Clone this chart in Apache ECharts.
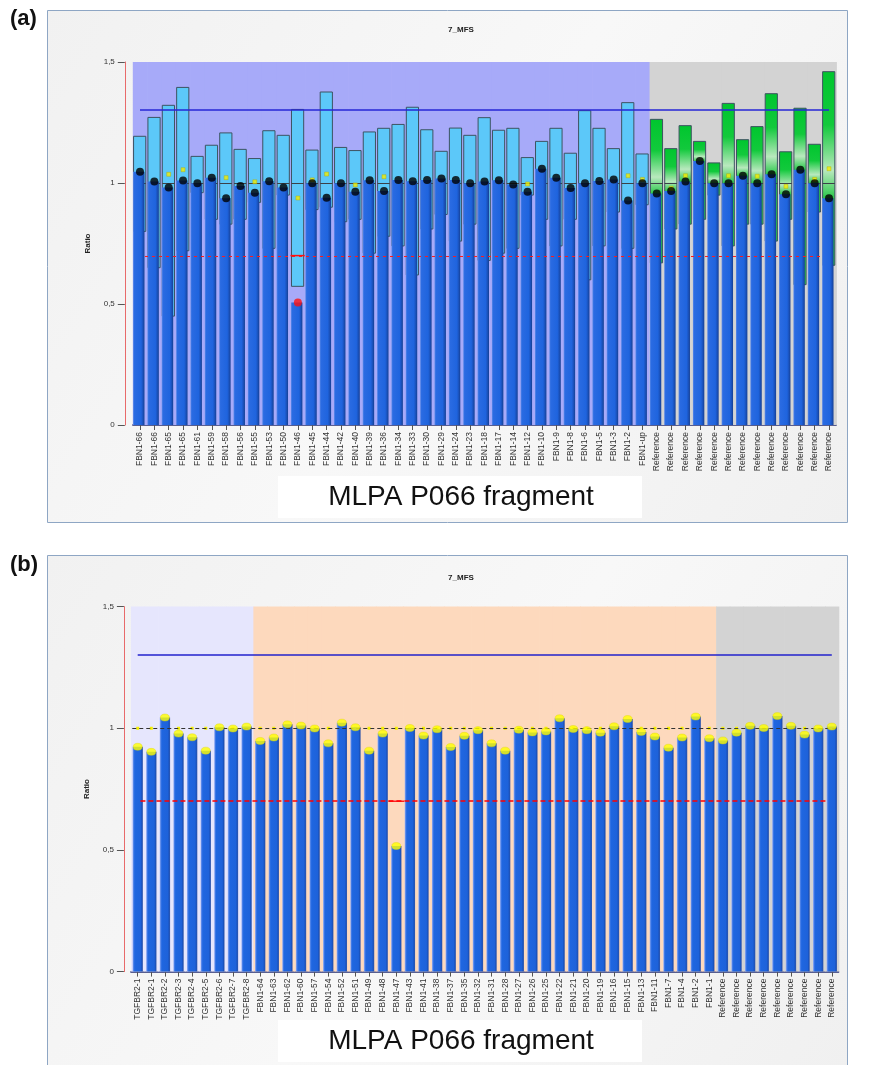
<!DOCTYPE html>
<html><head><meta charset="utf-8">
<script src="https://cdn.jsdelivr.net/npm/echarts/dist/echarts.min.js"></script>
<style>html,body{margin:0;padding:0;background:#fff}#c{width:878px;height:1065px}</style>
</head><body><div id="c"></div>
<script>
// ---------- Panel (a) ----------
const catsA = ['FBN1-66','FBN1-66','FBN1-65','FBN1-65','FBN1-61','FBN1-59','FBN1-58','FBN1-56','FBN1-55','FBN1-53',
  'FBN1-50','FBN1-46','FBN1-45','FBN1-44','FBN1-42','FBN1-40','FBN1-39','FBN1-36','FBN1-34','FBN1-33',
  'FBN1-30','FBN1-29','FBN1-24','FBN1-23','FBN1-18','FBN1-17','FBN1-14','FBN1-12','FBN1-10','FBN1-9',
  'FBN1-8','FBN1-6','FBN1-5','FBN1-3','FBN1-2','FBN1-up',
  'Reference','Reference','Reference','Reference','Reference','Reference','Reference','Reference','Reference',
  'Reference','Reference','Reference','Reference'];
const highA = [1.193,1.271,1.321,1.395,1.110,1.156,1.207,1.139,1.101,1.216,1.197,1.304,1.136,1.376,1.147,1.134,1.211,1.226,1.242,1.313,1.220,1.131,1.227,1.197,
  1.270,1.218,1.226,1.105,1.172,1.226,1.123,1.299,1.226,1.142,1.332,1.120,
  1.263,1.142,1.237,1.172,1.083,1.329,1.179,1.233,1.369,1.129,1.309,1.160,1.460];
const lowA = [0.80,0.65,0.45,0.72,0.96,0.85,0.83,0.85,0.92,0.73,0.95,0.573,0.89,0.90,0.84,0.85,0.71,0.78,0.74,0.62,0.81,0.87,0.76,0.83,
  0.68,0.71,0.73,0.95,0.85,0.74,0.85,0.60,0.74,0.88,0.73,0.91,
  0.67,0.81,0.83,0.85,0.95,0.74,0.83,0.83,0.76,0.85,0.58,0.88,0.66];
const ratioA = [1.047,1.006,0.981,1.010,0.999,1.022,0.937,0.988,0.960,1.007,0.981,0.506,0.999,0.939,0.999,0.964,1.011,0.967,1.012,1.007,1.012,1.019,1.012,0.999,
  1.006,1.011,0.994,0.964,1.059,1.022,0.979,0.999,1.008,1.014,0.928,0.999,
  0.957,0.967,1.006,1.091,0.999,0.999,1.030,0.999,1.036,0.953,1.055,0.999,0.937];
const markA = [null,null,1.036,1.055,null,null,1.022,null,1.005,null,null,0.938,1.013,1.037,null,0.992,null,1.026,null,null,null,null,null,null,
  null,null,null,0.996,null,null,null,null,null,null,1.030,1.015,
  null,0.978,1.030,null,null,1.030,null,1.028,null,0.986,null,1.015,1.059];

// ---------- Panel (b) ----------
const catsB = ['TGFBR2-1','TGFBR2-1','TGFBR2-2','TGFBR2-3','TGFBR2-4','TGFBR2-5','TGFBR2-6','TGFBR2-7','TGFBR2-8',
  'FBN1-64','FBN1-63','FBN1-62','FBN1-60','FBN1-57','FBN1-54','FBN1-52','FBN1-51','FBN1-49','FBN1-48','FBN1-47',
  'FBN1-43','FBN1-41','FBN1-38','FBN1-37','FBN1-35','FBN1-32','FBN1-31','FBN1-28','FBN1-27','FBN1-26','FBN1-25',
  'FBN1-22','FBN1-21','FBN1-20','FBN1-19','FBN1-16','FBN1-15','FBN1-13','FBN1-11','FBN1-7','FBN1-4','FBN1-2','FBN1-1',
  'Reference','Reference','Reference','Reference','Reference','Reference','Reference','Reference','Reference'];
const ratioB = [0.924,0.903,1.044,0.978,0.963,0.908,1.004,0.999,1.007,
  0.948,0.962,1.016,1.011,0.999,0.938,1.023,1.004,0.908,0.978,0.516,1.001,0.970,0.996,0.923,0.969,0.992,0.938,
  0.908,0.994,0.983,0.987,1.041,0.997,0.992,0.982,1.008,1.038,0.985,0.966,0.920,0.962,1.048,0.959,
  0.950,0.982,1.010,1.001,1.050,1.010,0.974,0.999,1.007];

const yTicks = ['0','0,5','1','1,5'];
const upperLimit = 1.3, lowerLimit = 0.7, refLevel = 1.0;
const FONT = '"Liberation Sans", Arial, sans-serif';

const barGradA = {type:'linear',x:0,y:0,x2:1,y2:0,colorStops:[
  {offset:0,color:'#5d8ae8'},{offset:0.12,color:'#2a6be2'},{offset:0.7,color:'#1f64de'},{offset:0.86,color:'#1a52bc'},{offset:1,color:'#163f92'}]};
const barGradB = {type:'linear',x:0,y:0,x2:1,y2:0,colorStops:[
  {offset:0,color:'#9db2f4'},{offset:0.12,color:'#3d78e6'},{offset:0.22,color:'#1f66e0'},{offset:0.78,color:'#1e62da'},{offset:0.9,color:'#1a52bc'},{offset:1,color:'#3a5aa8'}]};

function bgRender(colorFn){
  return function(params, api){
    const i = api.value(0);
    const c = api.coord([i, 0]);
    const bw = api.size([1, 0])[0];
    const cs = params.coordSys;
    return {type:'rect', silent:true, shape:{x:c[0]-bw/2, y:cs.y, width:bw+0.7, height:cs.height}, style:{fill:colorFn(i)}};
  };
}

function mainARender(params, api){
  const i = api.value(0), lo = api.value(1), hi = api.value(2), r = api.value(3);
  const bw = api.size([1, 0])[0];
  const w = bw * 0.85;
  const pHi = api.coord([i, hi]), pLo = api.coord([i, lo]), p0 = api.coord([i, 0]);
  const pR = api.coord([i, r]), p1 = api.coord([i, refLevel]), pL = api.coord([i, lowerLimit]);
  const x = pHi[0] - w/2 - 0.3;
  const isRef = catsA[i] === 'Reference';
  const fill = isRef ? {type:'linear', global:true, x:0, y:pHi[1], x2:0, y2:Math.max(pR[1], pHi[1]+1), colorStops:[
      {offset:0,color:'#00c62e'},{offset:0.42,color:'#12c93c'},{offset:0.78,color:'#b9e9be'},{offset:1,color:'#2ac84a'}]} : '#5cc8f9';
  const ch = [];
  ch.push({type:'rect', shape:{x:x, y:pHi[1], width:w, height:pLo[1]-pHi[1]}, style:{fill:fill, stroke:'#3d5361', lineWidth:1}});
  if (lo < refLevel && hi > refLevel) {
    ch.push({type:'line', shape:{x1:x, y1:Math.round(p1[1])+0.5, x2:x+w, y2:Math.round(p1[1])+0.5}, style:{stroke:'#3b4148', lineWidth:1}});
  }
  ch.push({type:'rect', shape:{x:x-0.5, y:pR[1], width:w-0.8, height:p0[1]-pR[1]}, style:{fill:barGradA}});
  if (r < lowerLimit) {
    ch.push({type:'line', shape:{x1:x-1, y1:pL[1], x2:x+w+1, y2:pL[1]}, style:{stroke:'#ff1010', lineWidth:1.5}});
  }
  return {type:'group', children:ch};
}

function barBRender(params, api){
  const i = api.value(0), v = api.value(1);
  const bw = api.size([1, 0])[0];
  const w = bw * 0.76;
  const pV = api.coord([i, v]), p0 = api.coord([i, 0]), p1 = api.coord([i, refLevel]), pL = api.coord([i, lowerLimit]);
  const ch = [];
  ch.push({type:'rect', shape:{x:pV[0]-1.5, y:p1[1]-1.5, width:3, height:3}, style:{fill:'#f4f000'}});
  ch.push({type:'rect', shape:{x:pV[0]-w/2, y:pV[1], width:w, height:p0[1]-pV[1]}, style:{fill:barGradB}});
  if (v < lowerLimit) {
    ch.push({type:'line', shape:{x1:pV[0]-bw/2-1, y1:pL[1], x2:pV[0]+bw/2+1, y2:pL[1]}, style:{stroke:'#ff2020', lineWidth:1.5}});
  }
  return {type:'group', children:ch};
}

// one horizontal reference line per series
function hlineSeries(gi, n, level, s){
  return {type:'custom', xAxisIndex:gi, yAxisIndex:gi, z:3, silent:true, clip:false,
    data:[[level]], encode:{y:0},
    renderItem:function(params, api){
      const y = api.value(0);
      const pA = api.coord([0, y]), pB = api.coord([n-1, y]);
      const bw = api.size([1, 0])[0];
      const yy = Math.round(pA[1]) + (s.width % 2 === 1 ? 0.5 : 0);
      return {type:'line', silent:true,
        shape:{x1:pA[0] + s.from*bw, y1:yy, x2:pB[0] + s.to*bw, y2:yy},
        style:{stroke:s.color, lineWidth:s.width, lineDash:s.dash || null}};
    }};
}

function yAxisCfg(gridIndex, offset){
  return {
    type:'value', gridIndex, min:0, max:1.5, interval:0.5, offset,
    axisLine:{show:true, lineStyle:{color:'#e86a6a', width:1}},
    axisTick:{show:true, length:7, lineStyle:{color:'#555'}},
    axisLabel:{formatter:(v)=>yTicks[Math.round(v/0.5)], fontSize:8, color:'#333', margin:10, fontFamily:FONT},
    splitLine:{show:false},
    name:'Ratio', nameLocation:'middle', nameGap:33,
    nameTextStyle:{fontSize:8, fontWeight:'bold', color:'#222', fontFamily:FONT}
  };
}
function xAxisCfg(gridIndex, cats){
  return {
    type:'category', gridIndex, data:cats,
    axisLine:{show:true, lineStyle:{color:'#232c70', width:1.5}},
    axisTick:{show:true, alignWithLabel:true, length:5, lineStyle:{color:'#555'}},
    axisLabel:{rotate:90, interval:0, fontSize:8.5, color:'#333', margin:7, fontFamily:FONT},
    splitLine:{show:false}
  };
}

const panelFill = {type:'linear',x:0,y:0,x2:1,y2:1,colorStops:[{offset:0,color:'#f1f1f1'},{offset:0.5,color:'#f8f8f8'},{offset:1,color:'#f0f0f0'}]};

const option = {
  animation:false,
  backgroundColor:'#ffffff',
  graphic:[
    {type:'rect', z:-10, silent:true, shape:{x:47.5, y:10.5, width:800, height:512}, style:{fill:panelFill, stroke:'#8ea6c4', lineWidth:1}},
    {type:'rect', z:-10, silent:true, shape:{x:47.5, y:555.5, width:800, height:520}, style:{fill:panelFill, stroke:'#8ea6c4', lineWidth:1}},
    {type:'text', z:10, style:{text:'(a)', x:10, y:19, font:'bold 22px '+FONT, fill:'#111', textVerticalAlign:'middle'}},
    {type:'text', z:10, style:{text:'(b)', x:10, y:565, font:'bold 22px '+FONT, fill:'#111', textVerticalAlign:'middle'}},
    {type:'text', z:10, style:{text:'7_MFS', x:461, y:30, font:'bold 8px '+FONT, fill:'#222', textAlign:'center', textVerticalAlign:'middle'}},
    {type:'text', z:10, style:{text:'7_MFS', x:461, y:578, font:'bold 8px '+FONT, fill:'#222', textAlign:'center', textVerticalAlign:'middle'}},
    {type:'rect', z:5, silent:true, shape:{x:278, y:476, width:364, height:42}, style:{fill:'#ffffff'}},
    {type:'rect', z:5, silent:true, shape:{x:278, y:1020, width:364, height:42}, style:{fill:'#ffffff'}},
    {type:'text', z:10, style:{text:'MLPA P066 fragment', x:461, y:497, font:'28px '+FONT, fill:'#111', textAlign:'center', textVerticalAlign:'middle'}},
    {type:'text', z:10, style:{text:'MLPA P066 fragment', x:461, y:1041, font:'28px '+FONT, fill:'#111', textAlign:'center', textVerticalAlign:'middle'}}
  ],
  grid:[
    {left:132.8, top:62, width:703.4, height:363},
    {left:130.9, top:606.6, width:707.7, height:365}
  ],
  xAxis:[xAxisCfg(0, catsA), xAxisCfg(1, catsB)],
  yAxis:[yAxisCfg(0, 8), yAxisCfg(1, 7)],
  series:[
    {type:'custom', xAxisIndex:0, yAxisIndex:0, z:1, silent:true, clip:false,
     renderItem:bgRender(i => catsA[i]==='Reference' ? '#d3d3d3' : '#a7aaf9'),
     data:catsA.map((c,i)=>[i,0]), encode:{x:0,y:1}},
    {type:'custom', xAxisIndex:0, yAxisIndex:0, z:2, silent:true, clip:false,
     renderItem:mainARender,
     data:catsA.map((c,i)=>[i, lowA[i], highA[i], ratioA[i]]), encode:{x:0, y:[1,2,3]}},
    hlineSeries(0, catsA.length, upperLimit, {color:'#2626d6', width:1.5, from:0, to:0}),
    hlineSeries(0, catsA.length, lowerLimit, {color:'#ff1a1a', width:1, dash:[3,4], from:0.35, to:-0.35}),
    {type:'scatter', xAxisIndex:0, yAxisIndex:0, z:4, silent:true,
     symbol:'rect', symbolSize:4, itemStyle:{color:'#f2ee00', borderColor:'#b0a800', borderWidth:0.5},
     data:markA.map((v,i)=> v==null ? null : [i, v]).filter(d => d)},
    {type:'scatter', xAxisIndex:0, yAxisIndex:0, z:5, silent:true,
     symbol:'circle', symbolSize:8,
     itemStyle:{color:(p)=> ratioA[p.dataIndex] < lowerLimit ? '#ff1010' : '#000000'},
     data:ratioA.map((v,i)=>[i, v])},

    {type:'custom', xAxisIndex:1, yAxisIndex:1, z:1, silent:true, clip:false,
     renderItem:bgRender(i => catsB[i].startsWith('TGFBR2') ? '#e6e6fd' : (catsB[i]==='Reference' ? '#d3d3d3' : '#fdd9bd')),
     data:catsB.map((c,i)=>[i,0]), encode:{x:0,y:1}},
    {type:'custom', xAxisIndex:1, yAxisIndex:1, z:2, silent:true, clip:false,
     renderItem:barBRender,
     data:ratioB.map((v,i)=>[i, v]), encode:{x:0, y:1}},
    hlineSeries(1, catsB.length, upperLimit, {color:'#2222cc', width:1.5, from:0, to:0}),
    hlineSeries(1, catsB.length, refLevel, {color:'#333333', width:1, dash:[4,3], from:-0.4, to:0.45}),
    hlineSeries(1, catsB.length, lowerLimit, {color:'#ff0000', width:1.5, dash:[5,3], from:0.2, to:-0.4}),
    {type:'scatter', xAxisIndex:1, yAxisIndex:1, z:5, silent:true,
     symbol:'circle', symbolSize:[9,7], itemStyle:{color:'#ffff00', borderColor:'#e0d800', borderWidth:0.5},
     data:ratioB.map((v,i)=>[i, v])}
  ]
};
const chart = echarts.init(document.getElementById('c'));
chart.setOption(option);
</script></body></html>
